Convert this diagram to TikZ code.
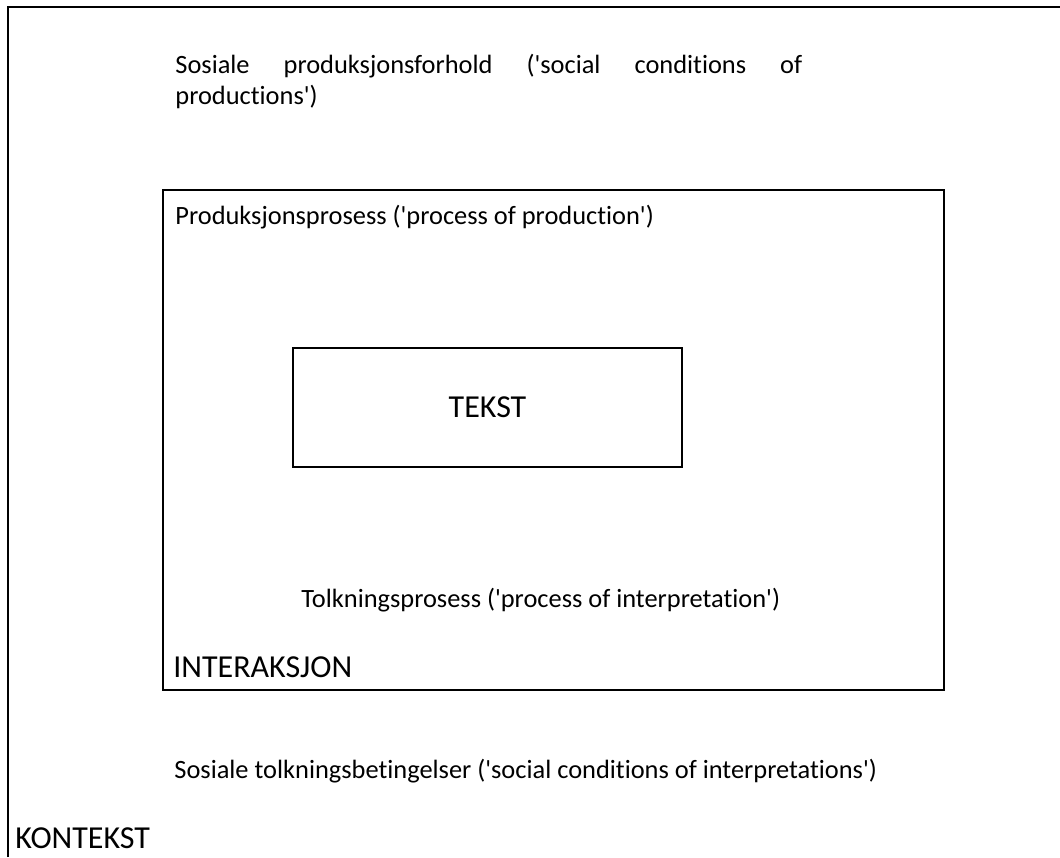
\documentclass[tikz,border=0pt]{standalone}
\usepackage{fontspec}
\setmainfont{Carlito}[Ligatures={NoCommon}]

\begin{document}
\begin{tikzpicture}[x=0.5pt,y=-0.5pt]
      \useasboundingbox (0,0) rectangle (1060,857);

      % context frame, open at right and bottom
      \coordinate (kb) at (8,857);
      \coordinate (kc) at (8,7);
      \coordinate (kr) at (1060,7);
      \draw[line width=1pt] (kb) -- (kc) -- (kr);

      \begin{scope}[every node/.style={draw, line width=1pt, inner sep=0pt, font=\fontsize{16}{19}\selectfont}]
        \node (interaksjon) at (553.5,440) [minimum width=390.5pt, minimum height=250pt] {};
        \node (tekst)       at (487.5,407.5) [minimum width=194.5pt, minimum height=59.5pt] {TEKST};
      \end{scope}

      \begin{scope}[every node/.style={anchor=west, inner sep=0pt, font=\fontsize{13.2}{15.5}\selectfont}]
        \node (prodforhold) [anchor=north west, align=left] at (175,54)
          {\makebox[313.5pt][s]{Sosiale produksjonsforhold (\textquotesingle social conditions of}\\productions\textquotesingle)};
        \node (prodprosess) at (175,217) {Produksjonsprosess (\textquotesingle process of production\textquotesingle)};
        \node (tolkprosess) at (301,600) {Tolkningsprosess (\textquotesingle process of interpretation\textquotesingle)};
        \node (tolkbet)     at (174,771) {Sosiale tolkningsbetingelser (\textquotesingle social conditions of interpretations\textquotesingle)};
      \end{scope}

      \begin{scope}[every node/.style={anchor=west, inner sep=0pt, font=\fontsize{16}{19}\selectfont}]
        \node (interlabel) at (173,667) {INTERAKSJON};
        \node (kontekst)   at (15,838)  {KONTEKST};
      \end{scope}

    \end{tikzpicture}
\end{document}
